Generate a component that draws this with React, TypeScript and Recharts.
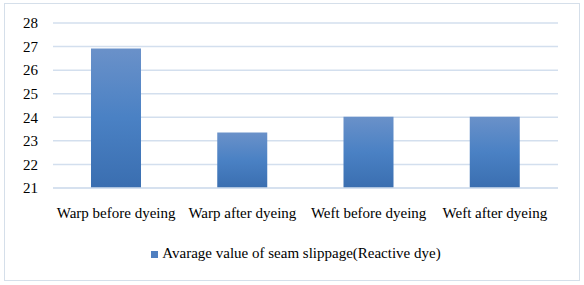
import { BarChart, Bar, XAxis, YAxis, CartesianGrid } from 'recharts';

const categories = ['Warp before dyeing', 'Warp after dyeing', 'Weft before dyeing', 'Weft after dyeing'];
const slippage = [26.92, 23.35, 24.02, 24.02];
const yTicks = [21, 22, 23, 24, 25, 26, 27, 28];
const seriesName = 'Avarage value of seam slippage(Reactive dye)';

const data = categories.map((name, i) => ({ name, value: slippage[i] }));

const font = 'Liberation Serif, DejaVu Serif, serif';

function LegendBox() {
  return (
    <div
      style={{
        position: 'absolute',
        left: 4,
        top: 245,
        width: 584,
        display: 'flex',
        justifyContent: 'center',
        alignItems: 'center',
        fontFamily: font,
        fontSize: 15,
        color: '#000',
      }}
    >
      <span style={{ display: 'inline-block', width: 7, height: 7, background: '#4F7FC0', marginRight: 4, marginTop: 2 }} />
      <span>{seriesName}</span>
    </div>
  );
}

export default function App() {
  return (
    <div style={{ position: 'absolute', left: 0, top: 0, width: 584, height: 285, background: '#fff' }}>
      <div
        style={{
          position: 'absolute',
          left: 4,
          top: 3,
          width: 574,
          height: 276,
          border: '1px solid #D5DFEA',
        }}
      />
      <BarChart
        width={584}
        height={285}
        data={data}
        margin={{ top: 23, right: 26, bottom: 67, left: 0 }}
        barSize={50}
        style={{ position: 'absolute', left: 0, top: 0 }}
      >
        <defs>
          <linearGradient id="barFill" x1="0" y1="0" x2="0" y2="1">
            <stop offset="0%" stopColor="#6A91C9" />
            <stop offset="50%" stopColor="#4A81C4" />
            <stop offset="100%" stopColor="#3A6EB0" />
          </linearGradient>
        </defs>
        <CartesianGrid vertical={false} stroke="#D3DFEE" strokeWidth={1.5} />
        <XAxis
          dataKey="name"
          height={30}
          tickLine={false}
          axisLine={{ stroke: '#D3DFEE', strokeWidth: 1.5 }}
          tickSize={0}
          tickMargin={19}
          interval={0}
          tick={{ fill: '#000', fontSize: 15, fontFamily: font }}
        />
        <YAxis
          width={53}
          domain={[21, 28]}
          ticks={yTicks}
          interval={0}
          tickLine={false}
          axisLine={false}
          tickSize={0}
          tickMargin={15}
          tick={{ fill: '#000', fontSize: 15, fontFamily: font }}
        />
        <Bar dataKey="value" name={seriesName} fill="url(#barFill)" isAnimationActive={false} />
      </BarChart>
      <LegendBox />
    </div>
  );
}
